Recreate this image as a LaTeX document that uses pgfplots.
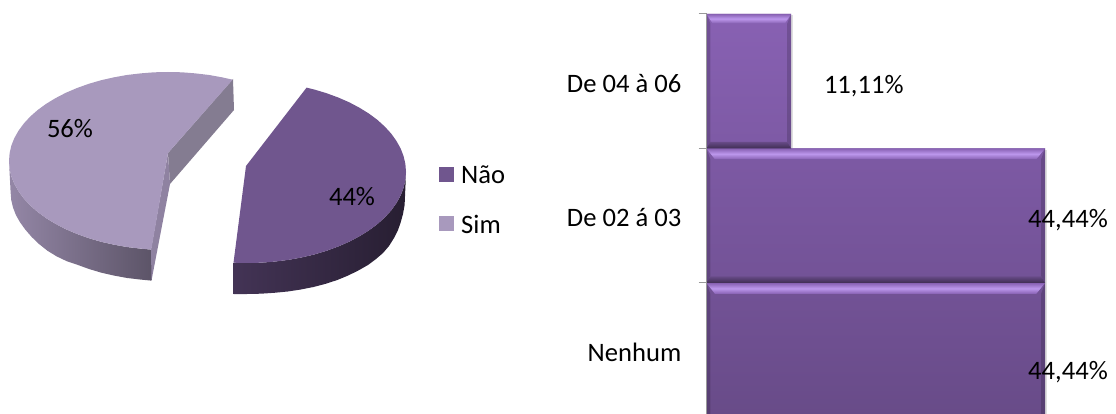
\documentclass[border=0pt]{standalone}
\usepackage{pgfplots}
\pgfplotsset{compat=1.18}
\usepackage{fontspec}
\setmainfont{Carlito}
\definecolor{simtop}{HTML}{A899BD}
\definecolor{naotop}{HTML}{70568E}
\definecolor{barhi}{HTML}{8861B3}
\definecolor{barlo}{HTML}{684B88}
\definecolor{barlight}{HTML}{BC97EC}
\begin{document}
\begin{tikzpicture}
\useasboundingbox (0,0) rectangle (1116bp,414bp);
\fontsize{26.7}{30}\selectfont
% Exploded pie, drawn in a 1116 x 414 canvas
\begin{axis}[at={(0,0)},anchor=south west,scale only axis,width=1116bp,height=414bp,
  xmin=0,xmax=1116,ymin=0,ymax=414,y dir=reverse,hide axis,clip=false]
% Sim: rim, cut faces, top
\addplot[shade,left color=simtop!88!black,right color=simtop!55!black,draw=none] coordinates {
  (9,161)(9.6,168.8)(11.4,176.5)(14.4,184)(18.6,191.4)(23.9,198.6)(30.3,205.5)(37.7,212)(46.2,218.2)
  (55.6,223.9)(65.8,229.2)(76.8,233.9)(88.5,238.1)(100.8,241.7)(113.6,244.6)(126.8,247)(140.4,248.6)(151.3,249.6)
  (151.3,280.6)(140.7,279.6)(127.2,278)(114.1,275.6)(101.4,272.7)(89.3,269.1)(77.7,264.9)(66.8,261.2)(56.7,256.4)
  (47.4,250.7)(39,244)(31.7,237)(25.3,229.6)(20.1,222.4)(15.9,215)(13,207.5)(11.2,199.8)(10.6,192)} -- cycle;
\addplot[fill=simtop!70!gray!85!black,draw=none] coordinates {
  (233,79)(234,110)(170,184)(168,153)} -- cycle;
\addplot[fill=simtop!85!black,draw=none] coordinates {
  (168,153)(170,184)(151.5,280.5)(151,249.6)} -- cycle;
\addplot[fill=simtop,draw=none] coordinates {
  (232.7,79.7)(222.4,77.4)(209.2,75)(195.6,73.4)(181.9,72.3)(168,72)(154.1,72.3)(140.4,73.4)(126.8,75)
  (113.6,77.4)(100.8,80.3)(88.5,83.9)(76.8,88.1)(65.8,92.8)(55.6,98.1)(46.2,103.8)(37.7,110)(30.3,116.5)
  (23.9,123.4)(18.6,130.6)(14.4,138)(11.4,145.5)(9.6,153.2)(9,161)(9.6,168.8)(11.4,176.5)(14.4,184)
  (18.6,191.4)(23.9,198.6)(30.3,205.5)(37.7,212)(46.2,218.2)(55.6,223.9)(65.8,229.2)(76.8,233.9)
  (88.5,238.1)(100.8,241.7)(113.6,244.6)(126.8,247)(140.4,248.6)(151.3,249.6)(168,153)} -- cycle;
% Não: rim, top
\addplot[shade,left color=naotop!60!black,right color=naotop!35!black,draw=none] coordinates {
  (233.5,262.7)(247,263)(260.9,262.7)(274.6,261.6)(288.2,259.9)(301.4,257.5)(314.2,254.5)(326.5,250.8)(338.2,246.5)
  (349.2,241.7)(359.4,236.3)(368.8,230.5)(377.3,224.2)(384.7,217.5)(391.1,210.5)(396.4,203.1)(400.6,195.6)
  (403.6,187.8)(405.4,179.9)(406,172)
  (405.5,185)(404.6,205)(403,214)(400.5,223)(398,230)(394,238)(389,246)(383,253)(376,259)(368,265)
  (358.3,270.5)(348.2,275.5)(337.3,280)(325.7,283.8)(313.5,287)(300.9,289.5)(287.8,291.5)(274.3,292.8)
  (260.8,293.7)(247,294)(233.5,294.2)} -- cycle;
\addplot[fill=naotop,draw=none] coordinates {
  (306.6,87.6)(314.2,89.5)(326.5,93.2)(338.2,97.5)(349.2,102.3)(359.4,107.7)(368.8,113.5)(377.3,119.8)(384.7,126.5)
  (391.1,133.5)(396.4,140.9)(400.6,148.4)(403.6,156.2)(405.4,164.1)(406,172)(405.4,179.9)(403.6,187.8)(400.6,195.6)
  (396.4,203.1)(391.1,210.5)(384.7,217.5)(377.3,224.2)(368.8,230.5)(359.4,236.3)(349.2,241.7)(338.2,246.5)
  (326.5,250.8)(314.2,254.5)(301.4,257.5)(288.2,259.9)(274.6,261.6)(260.9,262.7)(247,263)(233.5,262.7)(246,166)} -- cycle;
% Legend swatches
\addplot[fill=naotop,draw=none] coordinates {(439,167)(454,167)(454,182)(439,182)} -- cycle;
\addplot[fill=simtop,draw=none] coordinates {(439,216)(454,216)(454,231)(439,231)} -- cycle;
\node[anchor=west,inner sep=0pt] at (axis cs:461,175) {Não};
\node[anchor=west,inner sep=0pt] at (axis cs:461,224) {Sim};
\node at (axis cs:70,129) {56\%};
\node at (axis cs:352,197) {44\%};
\end{axis}
% Horizontal bars
\begin{axis}[at={(706.5bp,0)},anchor=south west,scale only axis,width=409.5bp,height=414bp,
  xmin=0,xmax=53.76,ymin=-0.474,ymax=2.604,
  axis x line=none,axis y line=left,y axis line style={draw=none},
  ytick={0,1,2},yticklabels={Nenhum,De 02 á 03,De 04 à 06},
  major tick length=0pt,minor tick length=8bp,tick align=outside,
  minor ytick={0.5,1.5,2.5},
  every minor tick/.style={draw=gray!80,line width=1pt},
  yticklabel style={xshift=-25bp,yshift=-2bp,inner sep=0pt,anchor=east,font=\fontsize{26.7}{30}\selectfont},
  clip=false]
% Soft shadow right of the bars
\addplot[gray!25,line width=2bp] coordinates {(11.25,1.5)(11.25,2.49)};
\addplot[gray!25,line width=2bp] coordinates {(44.58,-0.474)(44.58,1.49)};
\addplot[xbar,bar width=1,bar shift=0,draw=none,shade,top color=barhi,bottom color=barlo]
  coordinates {(44.44,0)(44.44,1)(11.11,2)};
% Bevels along the bar edges
\addplot[shade,top color=barhi,bottom color=barhi,middle color=barlight,draw=none] coordinates {(0,2.5)(11.11,2.5)(10.3,2.43)(0.8,2.43)} -- cycle;
\addplot[shade,top color=barhi,bottom color=barhi,middle color=barlight,draw=none] coordinates {(0,1.5)(44.44,1.5)(43.3,1.42)(1.1,1.42)} -- cycle;
\addplot[shade,top color=barhi,bottom color=barhi,middle color=barlight,draw=none] coordinates {(0,0.5)(44.44,0.5)(43.3,0.42)(1.1,0.42)} -- cycle;
\addplot[fill=black,fill opacity=0.16,draw=none] coordinates {(10.6,2.43)(11.11,2.5)(11.11,1.5)(10.6,1.55)} -- cycle;
\addplot[fill=black,fill opacity=0.16,draw=none] coordinates {(0,2.5)(0.5,2.43)(0.5,1.55)(0,1.5)} -- cycle;
\addplot[fill=black,fill opacity=0.16,draw=none] coordinates {(43.93,1.42)(44.44,1.5)(44.44,0.5)(43.93,0.55)} -- cycle;
\addplot[fill=black,fill opacity=0.16,draw=none] coordinates {(0,1.5)(0.5,1.42)(0.5,0.55)(0,0.5)} -- cycle;
\addplot[fill=black,fill opacity=0.16,draw=none] coordinates {(43.93,0.42)(44.44,0.5)(44.44,-0.474)(43.93,-0.474)} -- cycle;
\addplot[fill=black,fill opacity=0.16,draw=none] coordinates {(0,0.5)(0.5,0.42)(0.5,-0.474)(0,-0.474)} -- cycle;
\addplot[shade,top color=barlo,bottom color=barlo!60!black,draw=none] coordinates {(0.5,1.55)(10.6,1.55)(11.11,1.5)(0,1.5)} -- cycle;
\addplot[shade,top color=barlo,bottom color=barlo!60!black,draw=none] coordinates {(0.5,0.55)(43.93,0.55)(44.44,0.5)(0,0.5)} -- cycle;
% Category axis
\addplot[gray!80,line width=1pt] coordinates {(0,-0.474)(0,2.5)};
\node[text=black] at (axis cs:20.65,1.96) {11,11\%};
\node[text=black] at (axis cs:47.45,0.97) {44,44\%};
\node[text=black] at (axis cs:47.45,-0.165) {44,44\%};
\end{axis}
\end{tikzpicture}
\end{document}
